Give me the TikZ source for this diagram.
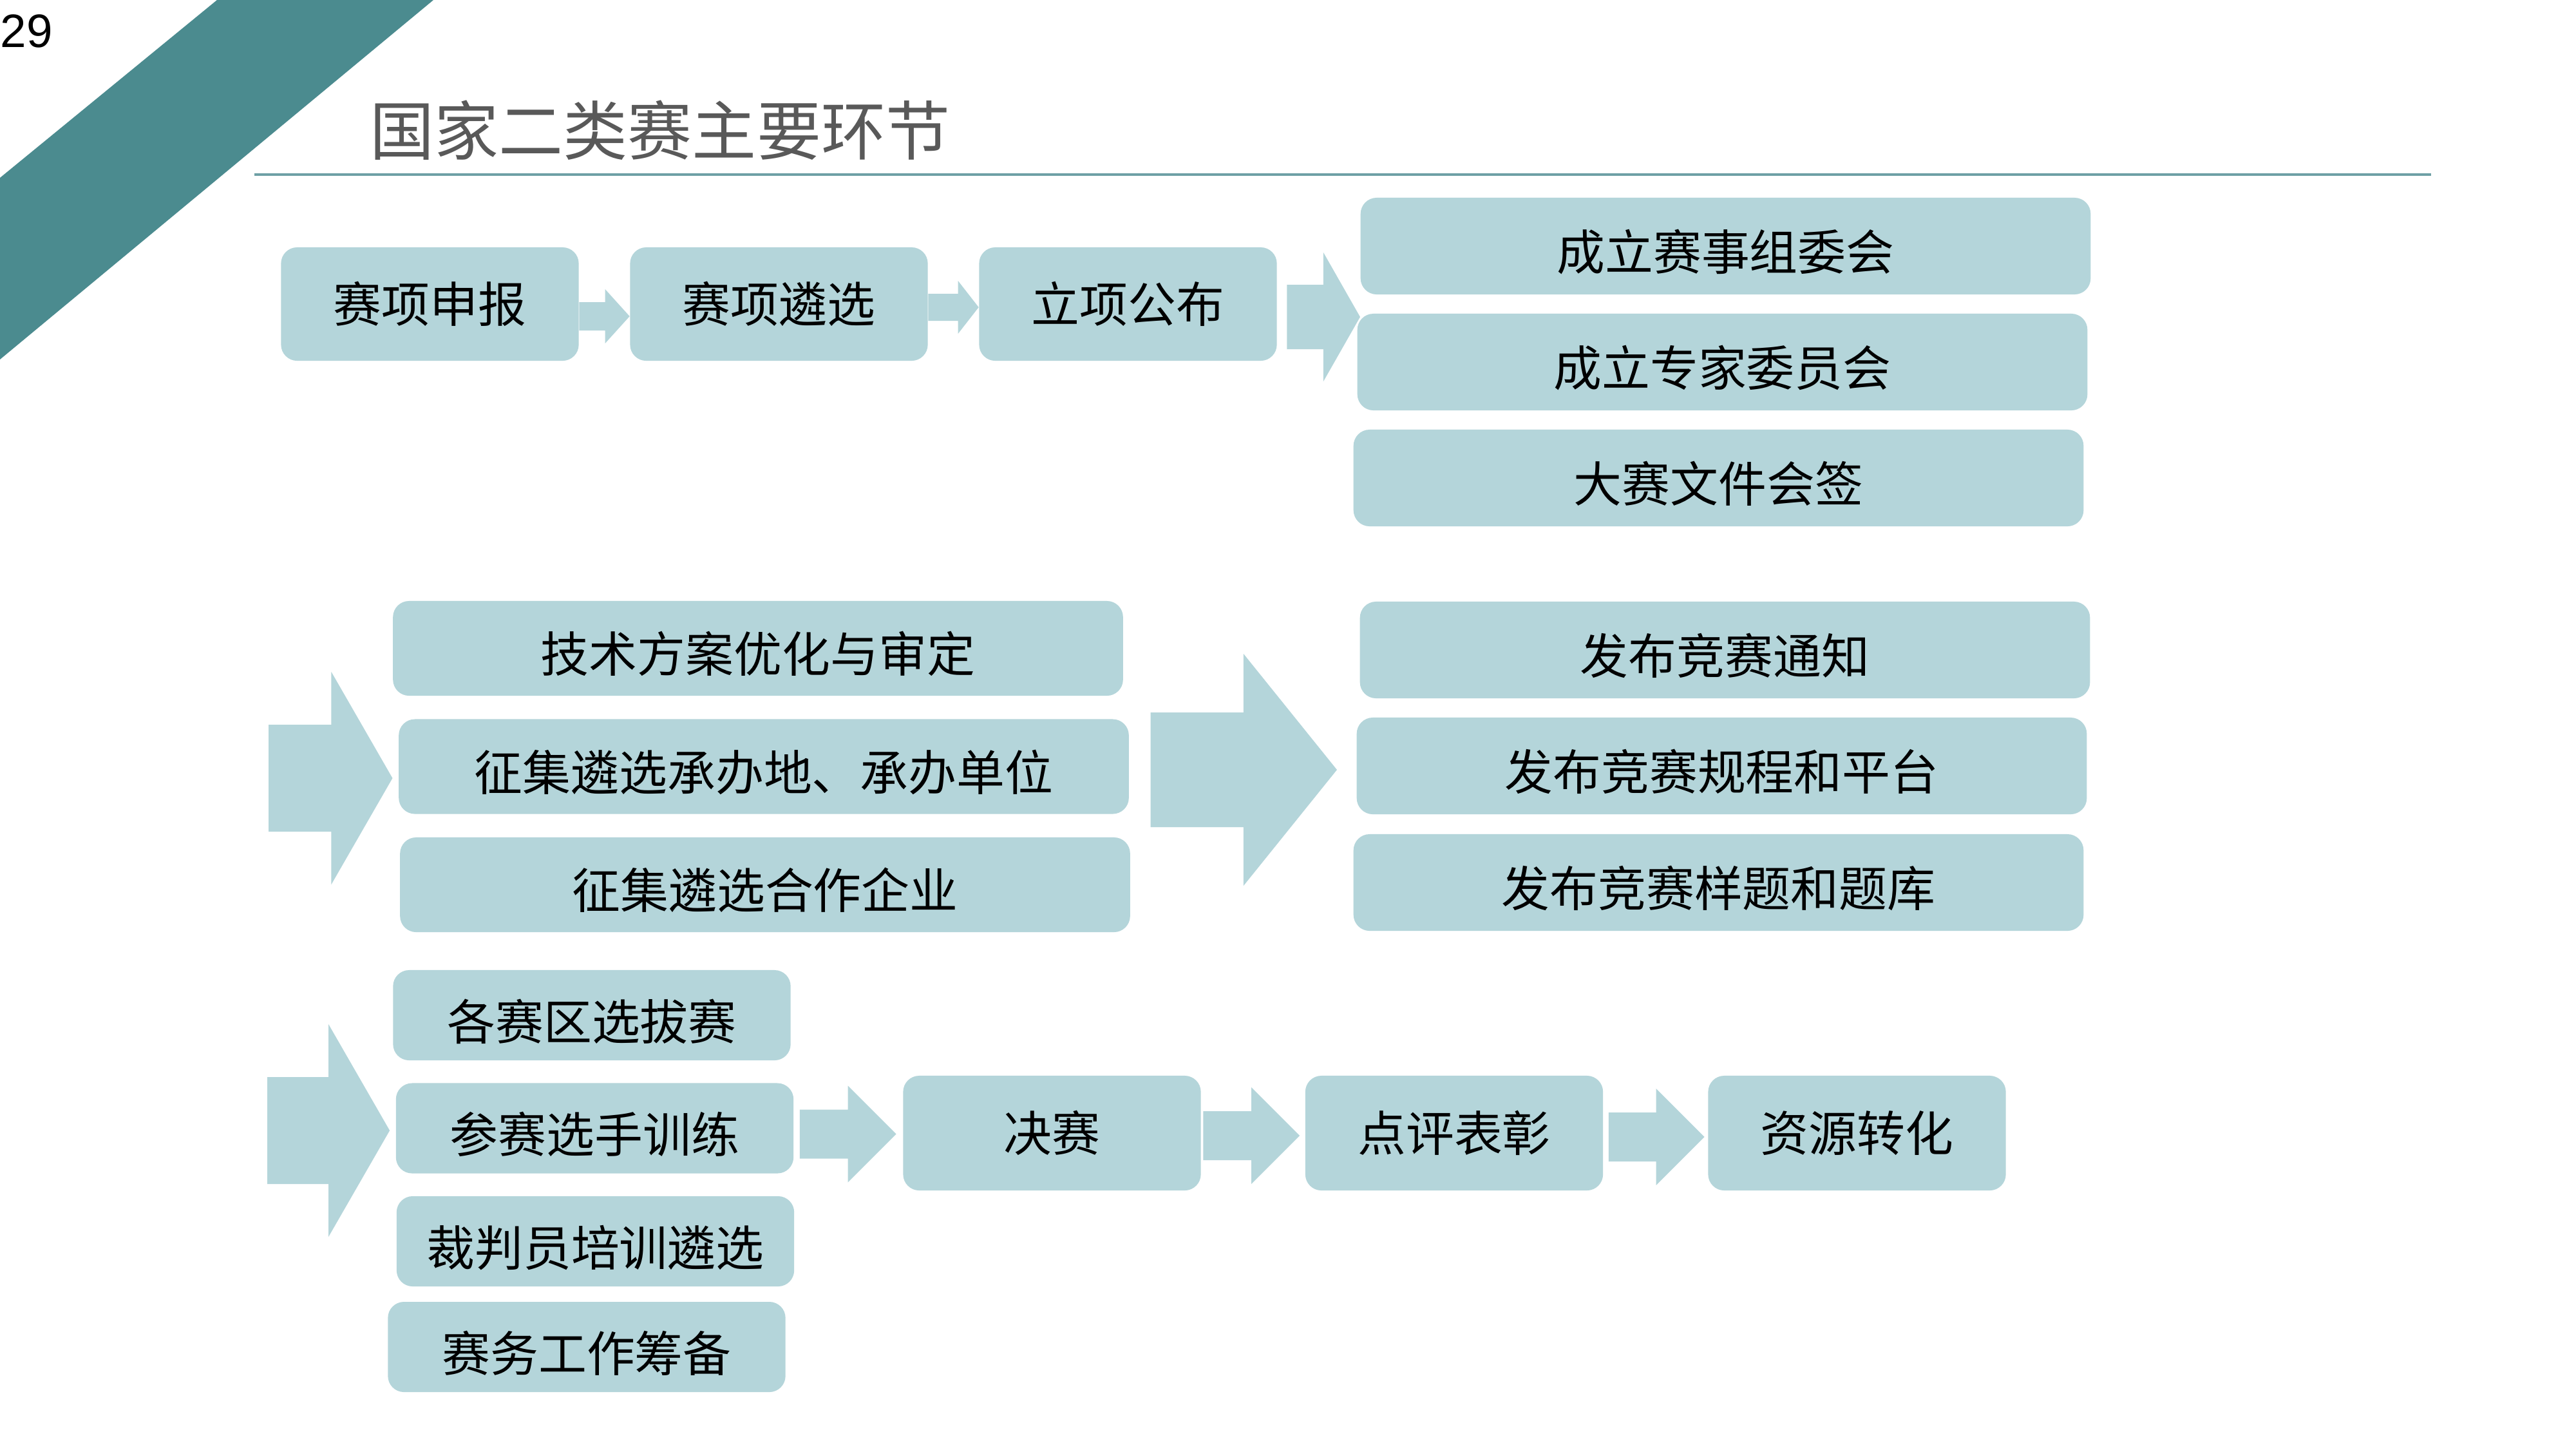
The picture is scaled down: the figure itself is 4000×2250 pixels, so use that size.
\documentclass[tikz,border=0pt]{standalone}
\usepackage{fontspec}
\setmainfont{Liberation Sans}
\newfontfamily\cjk{Noto Sans CJK SC}
\usepackage{xcolor}
\usepackage{tikz}
\usetikzlibrary{calc}

\definecolor{boxblue}{RGB}{180,213,218}
\definecolor{bandteal}{RGB}{75,139,143}
\definecolor{rulecolor}{RGB}{110,160,165}
\definecolor{titlegray}{RGB}{89,89,89}

\newcommand{\flowarrow}[5]{%
  \fill[boxblue] ($(#1)+(0,-#3)$) -- ($(#1 -| #2)+(-#5,-#3)$) -- ($(#1 -| #2)+(-#5,-#4)$)
    -- (#1 -| #2) -- ($(#1 -| #2)+(-#5,#4)$) -- ($(#1 -| #2)+(-#5,#3)$)
    -- ($(#1)+(0,#3)$) -- cycle;}

\begin{document}
\begin{tikzpicture}[x=0.01cm, y=-0.01cm, every node/.style={font=\cjk\fontsize{21.3}{25}\selectfont}]
    \tikzstyle{stage} = [rectangle, rounded corners=0.25cm, fill=boxblue, inner sep=0pt,
        minimum width=4.62cm, minimum height=1.76cm, text height=0.62cm, text depth=0.052cm]
    \tikzstyle{wide} = [stage, minimum width=11.33cm, minimum height=1.5cm, text height=0.8cm]
    \tikzstyle{task} = [stage, minimum width=6.17cm, minimum height=1.4cm, text height=0.82cm]

    \useasboundingbox (0,0) rectangle (4000,2250);
    \fill[white] (0,0) rectangle (4000,2250);
    \fill[bandteal] (337,0) -- (673,0) -- (0,558) -- (0,276) -- cycle;
    \node (page) [anchor=base west, inner sep=0pt, font=\fontsize{20.7}{24}\selectfont] at (0,73) {29};
    \node (title) [anchor=west, inner sep=0pt, text=titlegray, font=\cjk\fontsize{28.45}{32}\selectfont] at (574,202) {国家二类赛主要环节};
    \draw [rulecolor, line width=0.9pt] (395,271) -- (3775,271);

    % row 1
    \node (apply) [stage] at (667.5,472) {赛项申报};
    \node (select) [stage] at (1209.5,472) {赛项遴选};
    \node (announce) [stage] at (1751.5,472) {立项公布};
    \node (committee) [wide] at (2679.5,382) {成立赛事组委会};
    \node (experts) [wide] at (2674.5,562) {成立专家委员会};
    \node (signoff) [wide] at (2668.5,742) {大赛文件会签};

    % row 2
    \node (plan) [wide, minimum height=1.47cm] at (1177,1006.5) {技术方案优化与审定};
    \node (host) [wide, minimum height=1.47cm] at (1186,1190) {征集遴选承办地、承办单位};
    \node (partner) [wide, minimum height=1.47cm] at (1188,1373.5) {征集遴选合作企业};
    \node (notice) [wide] at (2678.5,1009) {发布竞赛通知};
    \node (rules) [wide] at (2673.5,1189) {发布竞赛规程和平台};
    \node (bank) [wide] at (2668.5,1370) {发布竞赛样题和题库};

    % row 3
    \node (regional) [task] at (919,1576) {各赛区选拔赛};
    \node (training) [task] at (923.5,1751.5) {参赛选手训练};
    \node (referee) [task] at (924.5,1927) {裁判员培训遴选};
    \node (affairs) [task] at (911,2091) {赛务工作筹备};
    \node (final) [stage, minimum height=1.78cm] at (1633.5,1759) {决赛};
    \node (review) [stage, minimum height=1.78cm] at (2258,1759) {点评表彰};
    \node (transfer) [stage, minimum height=1.78cm] at (2883.5,1759) {资源转化};

    % block arrows
    \coordinate (t1) at ([yshift=-1.9mm]apply.east);
    \coordinate (t2) at ([yshift=-0.5mm]select.east);
    \coordinate (t3) at ([xshift=1.5mm, yshift=-2mm]announce.east);
    \coordinate (t4) at (417,1208);
    \coordinate (t5) at ([xshift=3.3mm, yshift=-0.5mm]host.east);
    \coordinate (h5) at ([xshift=-3mm]rules.west);
    \coordinate (t6) at (415,1755);
    \coordinate (h6) at ([xshift=-0.9mm]training.west);
    \coordinate (t7) at ([xshift=0.9mm, yshift=-0.9mm]training.east);
    \coordinate (h7) at ([xshift=-1mm]final.west);
    \coordinate (t8) at ([xshift=0.3mm, yshift=-0.4mm]final.east);
    \coordinate (h8) at ([xshift=-0.8mm]review.west);
    \coordinate (t9) at ([xshift=0.8mm, yshift=-0.6mm]review.east);
    \coordinate (h9) at ([xshift=-0.5mm]transfer.west);

    \flowarrow{t1}{select.west}{22}{42}{38}
    \flowarrow{t2}{announce.west}{21}{41}{32}
    \flowarrow{t3}{committee.west}{50}{100}{57}
    \flowarrow{t4}{plan.west}{83}{165}{95}
    \flowarrow{t5}{h5}{89}{180}{145}
    \flowarrow{t6}{h6}{83}{165}{95}
    \flowarrow{t7}{h7}{38}{75}{75}
    \flowarrow{t8}{h8}{38}{75}{75}
    \flowarrow{t9}{h9}{38}{75}{75}
\end{tikzpicture}
\end{document}
